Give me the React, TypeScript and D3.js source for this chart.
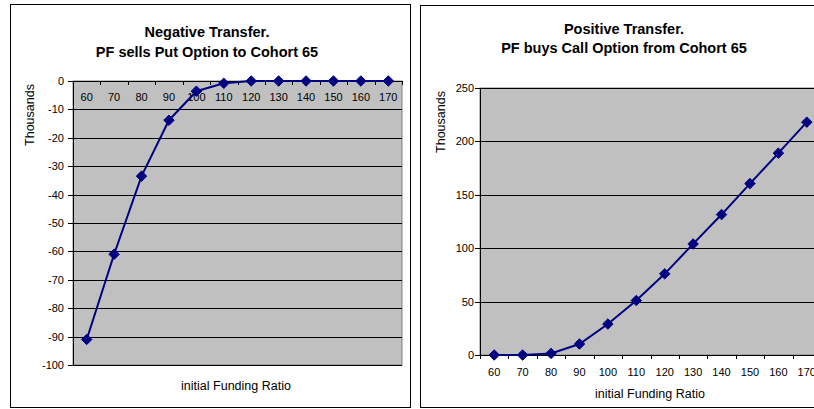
import React from "react";
import * as d3 from "d3";

const categories = ["60", "70", "80", "90", "100", "110", "120", "130", "140", "150", "160", "170"];
const negativeValues = [-91, -61, -33.5, -13.8, -3.6, -0.8, 0, 0, 0, 0, 0, 0];
const positiveValues = [0, 0, 1.5, 10.3, 29, 51, 76, 104, 131.5, 160.5, 189, 218];
const negTicks = [0, -10, -20, -30, -40, -50, -60, -70, -80, -90, -100];
const posTicks = [0, 50, 100, 150, 200, 250];

const FONT = "'Liberation Sans', Arial, sans-serif";
const NAVY = "#000080";
const PLOT_BG = "#C0C0C0";

type PanelProps = {
  values: number[];
  ticks: number[];
  domain: [number, number];
  box: { x: number; y: number; w: number; h: number };
  plot: { left: number; right: number; top: number; bottom: number };
  title: string[];
  titleX: number;
  titleY: number[];
  yTitle: { x: number; y: number };
  xTitle: { x: number; y: number };
  labelRight: number;
  xLabelY: number;
};

function Panel(p: PanelProps) {
  const x = d3.scaleBand<string>().domain(categories).range([p.plot.left, p.plot.right]).padding(0);
  const y = d3.scaleLinear().domain(p.domain).range([p.plot.bottom, p.plot.top]);
  const cx = (i: number) => (x(categories[i]) as number) + x.bandwidth() / 2;
  const line = d3
    .line<number>()
    .x((_, i) => cx(i))
    .y((d) => y(d));
  const sym = d3.symbol().type(d3.symbolDiamond2).size(70)();
  const axisY = y(0);
  const boundaries = categories.map((c) => x(c) as number).concat([p.plot.right]);
  return (
    <g>
      <rect x={p.box.x + 0.5} y={p.box.y + 0.5} width={p.box.w} height={p.box.h} fill="#fff" stroke="#000" strokeWidth={1} />
      {p.title.map((t, i) => (
        <text key={i} x={p.titleX} y={p.titleY[i]} textAnchor="middle" fontFamily={FONT} fontWeight="bold" fontSize={14.5} fill="#000">
          {t}
        </text>
      ))}
      <rect
        x={p.plot.left}
        y={p.plot.top}
        width={p.plot.right - p.plot.left}
        height={p.plot.bottom - p.plot.top}
        fill={PLOT_BG}
        stroke="#808080"
        strokeWidth={1}
      />
      {p.ticks.map((t) => (
        <line key={"g" + t} x1={p.plot.left} x2={p.plot.right} y1={Math.round(y(t)) + 0.5} y2={Math.round(y(t)) + 0.5} stroke="#000" strokeWidth={1} />
      ))}
      <line x1={p.plot.left + 0.5} x2={p.plot.left + 0.5} y1={p.plot.top} y2={p.plot.bottom} stroke="#000" />
      {p.ticks.map((t) => (
        <g key={"t" + t}>
          <line x1={p.plot.left - 5} x2={p.plot.left} y1={Math.round(y(t)) + 0.5} y2={Math.round(y(t)) + 0.5} stroke="#000" />
          <text x={p.labelRight} y={y(t) + 4} textAnchor="end" fontFamily={FONT} fontSize={11} fill="#000">
            {t}
          </text>
        </g>
      ))}
      <line x1={p.plot.left} x2={p.plot.right} y1={Math.round(axisY) + 0.5} y2={Math.round(axisY) + 0.5} stroke="#000" />
      {boundaries.map((b, i) => (
        <line key={"xb" + i} x1={Math.round(b) + 0.5} x2={Math.round(b) + 0.5} y1={axisY} y2={axisY + 4} stroke="#000" />
      ))}
      {categories.map((c, i) => (
        <text key={"xl" + c} x={cx(i)} y={p.xLabelY} textAnchor="middle" fontFamily={FONT} fontSize={11} fill="#000">
          {c}
        </text>
      ))}
      <path d={line(p.values) || ""} fill="none" stroke={NAVY} strokeWidth={2} />
      {p.values.map((v, i) => (
        <path key={"m" + i} d={sym || ""} transform={`translate(${cx(i)},${y(v)})`} fill={NAVY} stroke={NAVY} strokeWidth={1} />
      ))}
      <text
        transform={`translate(${p.yTitle.x},${p.yTitle.y}) rotate(-90)`}
        textAnchor="middle"
        fontFamily={FONT}
        fontSize={12.5}
        fill="#000"
      >
        Thousands
      </text>
      <text x={p.xTitle.x} y={p.xTitle.y} textAnchor="middle" fontFamily={FONT} fontSize={12.5} fill="#000">
        initial Funding Ratio
      </text>
    </g>
  );
}

export default function App() {
  return (
    <svg width={814} height={409} style={{ position: "absolute", left: 0, top: 0, background: "#fff" }}>
      <rect x={0} y={0} width={814} height={409} fill="#fff" />
      <Panel
        values={negativeValues}
        ticks={negTicks}
        domain={[-100, 0]}
        box={{ x: 10, y: 4, w: 400, h: 403 }}
        plot={{ left: 73, right: 402, top: 81, bottom: 365 }}
        title={["Negative Transfer.", "PF sells Put Option to Cohort 65"]}
        titleX={207}
        titleY={[37, 57]}
        yTitle={{ x: 34, y: 115 }}
        xTitle={{ x: 236, y: 390 }}
        labelRight={64}
        xLabelY={101}
      />
      <Panel
        values={positiveValues}
        ticks={posTicks}
        domain={[0, 250]}
        box={{ x: 420, y: 5, w: 410, h: 402 }}
        plot={{ left: 480, right: 821, top: 88, bottom: 355 }}
        title={["Positive Transfer.", "PF buys Call Option from Cohort 65"]}
        titleX={624}
        titleY={[34, 53]}
        yTitle={{ x: 445, y: 122 }}
        xTitle={{ x: 650, y: 398 }}
        labelRight={474}
        xLabelY={376}
      />
    </svg>
  );
}
